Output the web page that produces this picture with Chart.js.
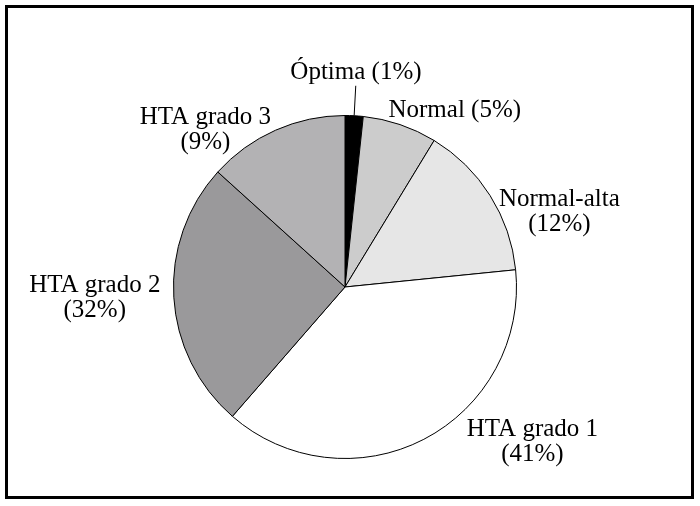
<!DOCTYPE html>
<html>
<head>
<meta charset="utf-8">
<script src="https://cdn.jsdelivr.net/npm/chart.js@4"></script>
<style>
  body { margin: 0; background: #fff; }
</style>
</head>
<body>
<canvas id="pie-chart" width="700" height="506"></canvas>
<script>

// categories and their shares (slice sizes)
const categories = ['Óptima', 'Normal', 'Normal-alta', 'HTA grado 1', 'HTA grado 2', 'HTA grado 3'];
const shares = [1.7, 7.0, 14.7, 38.0, 25.3, 13.3];
const printedPct = ['1%', '5%', '12%', '41%', '32%', '9%'];
const sliceColors = ['#000000', '#cccccc', '#e6e6e6', '#ffffff', '#9a999b', '#b3b2b4'];

// label lines, one array per category
const labelLines = [
    ['Óptima (' + printedPct[0] + ')'],
    ['Normal (' + printedPct[1] + ')'],
    ['Normal-alta', '(' + printedPct[2] + ')'],
    ['HTA grado 1', '(' + printedPct[3] + ')'],
    ['HTA grado 2', '(' + printedPct[4] + ')'],
    ['HTA grado 3', '(' + printedPct[5] + ')']
];

// label anchor relative to pie centre, in units of the radius
const labelDx = [0.064, 0.640, 1.250, 1.093, -1.459, -0.814];
const labelDy = [-1.215, -0.994, -0.471, 0.866, 0.029, -0.953];


const labelPlugin = {
    id: 'labelPlugin',
    afterDraw(chart) {
        const ctx = chart.ctx;
        const arcs = chart.getDatasetMeta(0).data;
        const cx = arcs[0].x;
        const cy = arcs[0].y;
        const r = arcs[0].outerRadius;

        ctx.save();
        ctx.fillStyle = '#000';
        ctx.font = '25px "Liberation Serif", serif';
        ctx.textBaseline = 'alphabetic';
        ctx.textAlign = 'center';

        labelLines.forEach((lines, i) => {
            lines.forEach((line, j) => {
                ctx.fillText(line, cx + labelDx[i] * r, cy + labelDy[i] * r + j * 25);
            });
        });

        // leader line for the small first slice
        const a = arcs[0];
        const mid = (a.startAngle + a.endAngle) / 2;
        ctx.strokeStyle = '#000';
        ctx.lineWidth = 1;
        ctx.beginPath();
        ctx.moveTo(cx + Math.cos(mid) * r, cy + Math.sin(mid) * r);
        ctx.lineTo(cx + Math.cos(mid) * r * 1.175, cy + Math.sin(mid) * r * 1.175);
        ctx.stroke();

        // outer frame
        ctx.lineWidth = 3;
        ctx.strokeRect(6.5, 6.5, 686, 491);
        ctx.restore();
    }
};


const ctx = document.getElementById('pie-chart').getContext('2d');

new Chart(ctx, {
    type: 'pie',
    data: {
        labels: categories,
        datasets: [{
            data: shares,
            backgroundColor: sliceColors,
            borderColor: '#000',
            borderWidth: 1
        }]
    },
    options: {
        responsive: false,
        animation: false,
        layout: {
            padding: { left: 173, right: 183, top: 115, bottom: 47 }
        },
        plugins: {
            legend: { display: false },
            tooltip: { enabled: false }
        }
    },
    plugins: [labelPlugin]
});

</script>
</body>
</html>
